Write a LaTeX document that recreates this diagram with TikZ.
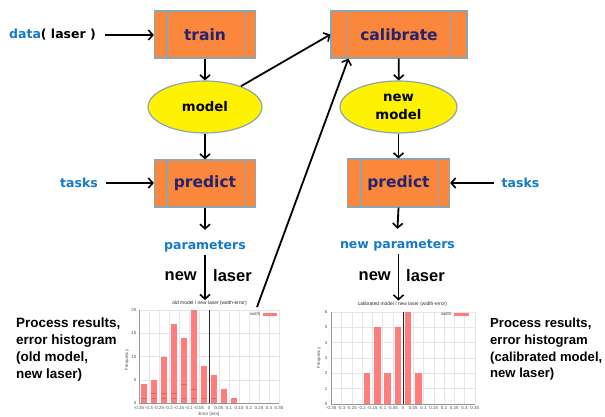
\documentclass[tikz,border=0pt]{standalone}
\usepackage{fontspec}
\setmainfont{Liberation Sans}
\newfontfamily\vfont{DejaVu Sans}
\usetikzlibrary{shapes.geometric,arrows.meta,calc}
\definecolor{boxfill}{RGB}{250,135,60}
\definecolor{boxedge}{RGB}{140,165,175}
\definecolor{navy}{RGB}{35,35,110}
\definecolor{lblue}{RGB}{20,120,205}
\definecolor{barc}{RGB}{255,125,125}
\definecolor{subc}{RGB}{235,95,95}
\definecolor{gridc}{RGB}{230,230,230}
\definecolor{axisc}{RGB}{150,150,150}
\definecolor{tickc}{RGB}{80,80,80}
\tikzset{
  arr/.style={draw=black, line width=1.8pt, -{Straight Barb[length=4.5pt,width=10pt,line width=1.6pt]}},
  procbox/.style={draw=boxedge, fill=boxfill, line width=1.2pt, inner sep=0pt,
    font=\vfont\bfseries\fontsize{15.5}{16}\selectfont, text=navy},
  divider/.style={draw=boxedge, line width=1.2pt},
  ell/.style={ellipse, draw=boxedge, fill=yellow, line width=1.2pt, inner sep=0pt,
    minimum width=114pt, minimum height=52pt, align=center,
    font=\vfont\bfseries\fontsize{13.3}{18.5}\selectfont},
  blab/.style={font=\vfont\bfseries\fontsize{12.5}{14}\selectfont, text=lblue},
  nlab/.style={font=\bfseries\fontsize{16.5}{18}\selectfont},
  ptxt/.style={font=\bfseries\fontsize{13.5}{16.7}\selectfont, align=left, anchor=north west, inner sep=0pt},
  ticklab/.style={font=\fontsize{4.4}{5}\selectfont, text=tickc, inner sep=0.5pt},
  htitle/.style={font=\fontsize{4.9}{5.5}\selectfont, text=black!85, inner sep=1pt},
  gridl/.style={draw=gridc, line width=0.4pt},
  subl/.style={draw=subc, line width=0.5pt},
}
\begin{document}
\begin{tikzpicture}[x=1pt,y=-1pt]
\useasboundingbox (0,0) rectangle (605,416);

% ---------- left column ----------
\node[procbox, minimum width=101pt, minimum height=47pt] (tr) at (205,34.5) {train};
\draw[divider] ([xshift=13pt]tr.north west) -- ([xshift=13pt]tr.south west);
\draw[divider] ([xshift=-12pt]tr.north east) -- ([xshift=-12pt]tr.south east);

\node[ell] (mo) at (205,107) {model};

\node[procbox, minimum width=101pt, minimum height=47pt] (pl) at (205,183.5) {predict};
\draw[divider] ([xshift=13pt]pl.north west) -- ([xshift=13pt]pl.south west);
\draw[divider] ([xshift=-12pt]pl.north east) -- ([xshift=-12pt]pl.south east);

\node[font=\vfont\bfseries\fontsize{12.5}{14}\selectfont] (data) at (52.5,35) {\textcolor{lblue}{data}( laser )};
\node[blab] (tl) at (79,183) {tasks};
\node[blab] (par) at (205,246) {parameters};
\node[nlab, anchor=east, inner sep=0pt] (nwl) at (197,276) {new};
\node[nlab, anchor=west, inner sep=0pt] (lsl) at (213,276) {laser};

% ---------- right column ----------
\node[procbox, minimum width=136pt, minimum height=47pt] (ca) at (399,34.5) {calibrate};
\draw[divider] ([xshift=17pt]ca.north west) -- ([xshift=17pt]ca.south west);
\draw[divider] ([xshift=-16pt]ca.north east) -- ([xshift=-16pt]ca.south east);

\node[ell, minimum width=117pt] (nm) at (398.5,107) {new\\model};

\node[procbox, minimum width=102pt, minimum height=48pt] (pr) at (398.5,183) {predict};
\draw[divider] ([xshift=14pt]pr.north west) -- ([xshift=14pt]pr.south west);
\draw[divider] ([xshift=-12pt]pr.north east) -- ([xshift=-12pt]pr.south east);

\node[blab] (trr) at (520.5,183) {tasks};
\node[blab] (npar) at (397.5,245) {new parameters};
\node[nlab, anchor=east, inner sep=0pt] (nwr) at (391,276) {new};
\node[nlab, anchor=west, inner sep=0pt] (lsr) at (406,276) {laser};

% ---------- texts ----------
\node[ptxt] (ptl) at (16,318) {Process results,\\error histogram\\(old model,\\new laser)};
\node[ptxt, font=\bfseries\fontsize{13.1}{16.7}\selectfont] (ptr) at (490,318) {Process results,\\error histogram\\(calibrated model,\\new laser)};

% ---------- left histogram ----------
\foreach \i in {-7,...,7} \draw[gridl] ({209+10*\i},310) -- ({209+10*\i},403);
\foreach \f in {5,10,15,20} \draw[gridl] (139,{403-4.65*\f}) -- (279,{403-4.65*\f});
\draw[gridl] (279,310) -- (279,403);
\foreach \v/\h in {-0.325/4,-0.275/5,-0.225/10,-0.175/17,-0.125/14,-0.075/20,-0.025/8,0.025/6,0.075/3,0.125/1}
  \fill[barc] ({209+200*\v-3.3},403) rectangle ({209+200*\v+3.3},{403-4.65*\h});
\foreach \v/\h in {-0.325/1,-0.275/1,-0.275/2,-0.225/1,-0.225/2,-0.175/1,-0.175/2,-0.125/1,-0.125/4,-0.075/1,-0.075/3,-0.025/1,0.025/1}
  \draw[subl] ({209+200*\v-3.3},{403-4.65*\h}) -- ({209+200*\v+3.3},{403-4.65*\h});
\draw[black!85, line width=0.9pt] (209,310) -- (209,403);
\draw[axisc, line width=0.5pt] (139,310) -- (139,403) -- (279,403);
\foreach \i/\t in {-7/-0.35,-6/-0.3,-5/-0.25,-4/-0.2,-3/-0.15,-2/-0.1,-1/-0.05,0/0,1/0.05,2/0.1,3/0.15,4/0.2,5/0.25,6/0.3,7/0.35}
  \node[ticklab] (xla\i) at ({209+10*\i},407.5) {\t};
\foreach \f in {0,5,10,15,20}
  \node[ticklab, anchor=east] (yla\f) at (137,{403-4.65*\f}) {\f};
\node[ticklab, rotate=90] (fql) at (127,360) {Frequency};
\node[ticklab] (erl) at (209,414) {Error [mm]};
\node[htitle] (t1) at (209.5,303.5) {old model / new laser (width-error)};
\node[ticklab, anchor=east] (lgl) at (261,314) {width};
\fill[barc] (263,313) rectangle (277,315.5);

% ---------- right histogram ----------
\foreach \i in {-7,...,7} \draw[gridl] ({403+10.25*\i},312) -- ({403+10.25*\i},404);
\foreach \f in {1,...,6} \draw[gridl] (331.25,{404-15.33*\f}) -- (474.75,{404-15.33*\f});
\draw[gridl] (474.75,312) -- (474.75,404);
\foreach \v/\h in {-0.175/2,-0.125/5,-0.075/2,-0.025/5,0.025/6,0.075/2}
  \fill[barc] ({403+205*\v-3.2},404) rectangle ({403+205*\v+3.2},{404-15.33*\h});
\draw[black!85, line width=0.9pt] (403,312) -- (403,404);
\draw[axisc, line width=0.5pt] (331.25,312) -- (331.25,404) -- (474.75,404);
\foreach \i/\t in {-7/-0.35,-6/-0.3,-5/-0.25,-4/-0.2,-3/-0.15,-2/-0.1,-1/-0.05,0/0,1/0.05,2/0.1,3/0.15,4/0.2,5/0.25,6/0.3,7/0.35}
  \node[ticklab] (xlb\i) at ({403+10.25*\i},408) {\t};
\foreach \f in {0,...,6}
  \node[ticklab, anchor=east] (ylb\f) at (328,{404-15.33*\f}) {\f};
\node[ticklab, rotate=90] (fqr) at (319,358) {Frequency};
\node[htitle] (t2) at (402.5,304) {calibrated model / new laser (width-error)};
\node[ticklab, anchor=east] (lgr) at (452,314) {width};
\fill[barc] (454,313) rectangle (469,315.5);

% ---------- connectors ----------
\coordinate (h1top) at (257,307);
\draw[arr, shorten <=6pt] (data.east) -- (tr.west |- data.east);
\draw[arr] (tr) -- (mo);
\draw[arr] (mo) -- (pl);
\draw[arr, shorten <=5pt] (tl.east) -- (pl.west |- tl.east);
\draw[arr] (pl.south) -- ([yshift=7pt]par.north);
\draw[arr] (par.south) -- (par.south |- t1.north);
\draw[arr] (mo) -- (ca.west);
\draw[arr] (h1top) -- ([xshift=18pt]ca.south west);

\draw[arr] (ca) -- (nm);
\draw[arr] (nm) -- (pr);
\draw[arr, shorten <=4pt] (trr.west) -- (pr.east |- trr.west);
\draw[arr] (pr.south) -- ([yshift=7pt]npar.north);
\draw[arr] (npar.south -| pr.south) -- (pr.south |- t2.north);
\end{tikzpicture}
\end{document}
